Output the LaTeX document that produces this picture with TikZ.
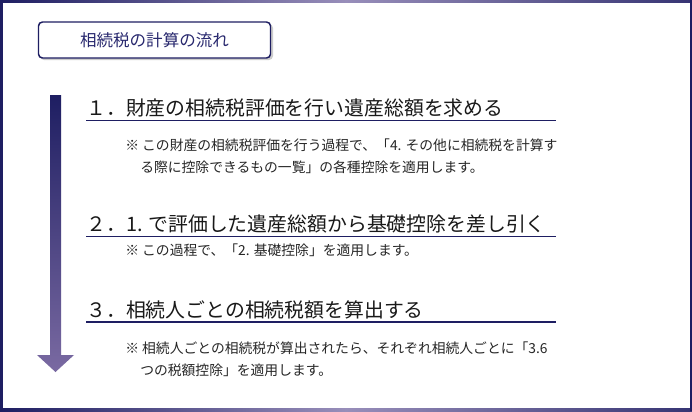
\documentclass[tikz,border=0pt]{standalone}
\usepackage{fontspec}
\setmainfont{Noto Sans CJK JP}
\usepackage{xcolor}
\usepackage{tikz}
\definecolor{navy}{RGB}{30,30,98}
\definecolor{lavender}{RGB}{152,142,186}
\definecolor{arrowend}{RGB}{122,106,162}
\definecolor{titleink}{RGB}{40,40,110}

\begin{document}
\begin{tikzpicture}[x=0.75pt,y=-0.75pt,
        heading/.style={anchor=base west,inner sep=0pt,text=black!90,font=\fontsize{14.9}{16}\selectfont},
        note/.style={anchor=base west,inner sep=0pt,text=black!85,font=\fontsize{10.35}{12}\selectfont},
        headrule/.style={draw=navy,line width=1.1pt},
        titlebox/.style={draw=navy,line width=1.1pt,rounded corners=3pt,fill=white,text=titleink,
            minimum width=174pt,minimum height=27pt,font=\fontsize{12.4}{14}\selectfont}]
            \useasboundingbox (0,0) rectangle (692,411);
            \fill[white] (0,0) rectangle (692,411);
            \shade[left color=navy,right color=navy!80!lavender,middle color=lavender] (0,0) rectangle (692,2.5);
            \shade[left color=navy,right color=navy!80!lavender,middle color=lavender] (0,408) rectangle (692,411);
            \fill[navy] (0,0) rectangle (2.5,411);
            \fill[navy] (689.5,0) rectangle (692,411);
            % title
            \fill[gray!40,rounded corners=3pt] (40,24) rectangle (273,60);
            \node[titlebox] (title) at (154.5,40) {相続税の計算の流れ};
            % flow arrow
            \shade[top color=navy,bottom color=arrowend] (50,95)--(61,95)--(61,355)--(74,355)--(55.5,372)--(37,355)--(50,355)--cycle;
            % step 1
            \node[heading] (step1) at (86,115) {１．財産の相続税評価を行い遺産総額を求める};
            \draw[headrule] (86,120.5)--(556,120.5);
            \node[note] (note1a) at (125,150) {※ この財産の相続税評価を行う過程で、「4. その他に相続税を計算す};
            \node[note] (note1b) at (140,172) {る際に控除できるもの一覧」の各種控除を適用します。};
            % step 2
            \node[heading] (step2) at (86,231) {２．1. で評価した遺産総額から基礎控除を差し引く};
            \draw[headrule] (86,236.5)--(556,236.5);
            \node[note] (note2) at (125,255) {※ この過程で、「2. 基礎控除」を適用します。};
            % step 3
            \node[heading] (step3) at (86,317) {３．相続人ごとの相続税額を算出する};
            \draw[headrule] (86,322)--(556,322);
            \node[note] (note3a) at (125,353) {※ 相続人ごとの相続税が算出されたら、それぞれ相続人ごとに「3.6};
            \node[note] (note3b) at (140,375) {つの税額控除」を適用します。};
        \end{tikzpicture}
\end{document}
